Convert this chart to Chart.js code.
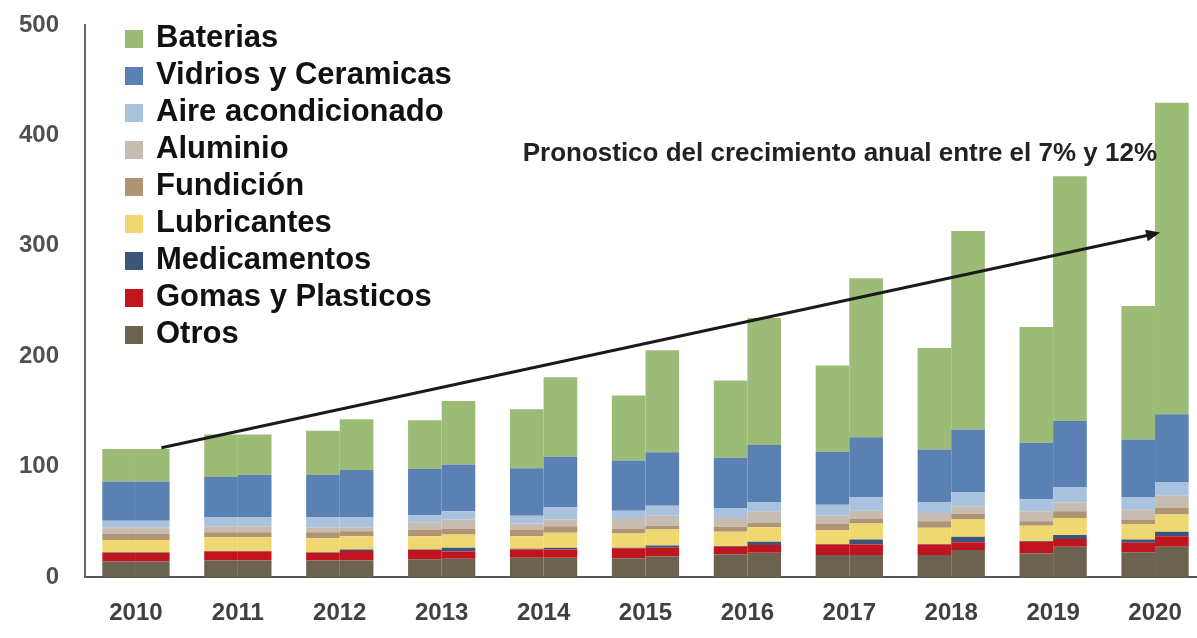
<!DOCTYPE html>
<html>
<head>
<meta charset="utf-8">
<script src="https://cdn.jsdelivr.net/npm/chart.js@4.4.1/dist/chart.umd.min.js"></script>
<style>
  html, body { margin: 0; padding: 0; background: #fff; overflow: hidden; }
  #wrap { width: 1197px; height: 638px; overflow: hidden; }
</style>
</head>
<body>
<div id="wrap"><canvas id="chart" width="1210" height="638"></canvas></div>
<script>
// categories
const years = ['2010', '2011', '2012', '2013', '2014', '2015', '2016', '2017', '2018', '2019', '2020'];

// stacked bottom -> top
const seriesNames = ['Otros', 'Gomas y Plasticos', 'Medicamentos', 'Lubricantes', 'Fundición',
  'Aluminio', 'Aire acondicionado', 'Vidrios y Ceramicas', 'Baterias'];
const seriesColors = ['#6b624f', '#c0141f', '#3d5578', '#efd872', '#b09575',
  '#c7bcb2', '#a9c2dd', '#5b80b4', '#9bbb76'];

// each year: [escenario bajo, escenario alto]
const otros = [[14, 14], [15, 15], [15, 15], [16, 16.5], [17.5, 17.5], [17, 18.5], [20.5, 22], [20, 20], [20, 24.5], [21.5, 27.5], [22.5, 27.5]];
const gomas = [[8, 8], [8, 8], [7, 8.5], [8.5, 6.5], [7.5, 7.5], [9, 8], [7, 7], [9.5, 9.5], [9.5, 7], [10.5, 7], [8.5, 9.5]];
const medicamentos = [[0.5, 0.5], [0.5, 0.5], [0.5, 1.5], [0.5, 3.5], [0.5, 1.5], [0.5, 2], [0.5, 3], [0.5, 4.5], [0.5, 5], [0.5, 3.5], [3, 4]];
const lubricantes = [[11, 11], [12.5, 12.5], [12.5, 12], [12, 12], [11.5, 13.5], [13, 14.5], [13, 13], [12.5, 14.5], [14.5, 15.5], [14, 15.5], [13.5, 15.5]];
const fundicion = [[5.5, 5.5], [4.5, 4.5], [5.5, 4.5], [5.5, 5], [6, 6], [4.5, 3.5], [4.5, 4], [5.5, 4.5], [6, 5], [4, 6], [4.5, 6]];
const aluminio = [[6, 6], [5.5, 5.5], [4.5, 3.5], [7, 8.5], [5.5, 6], [8.5, 9], [8, 10], [7.5, 7], [7.5, 7], [9, 8], [9, 11]];
const aire = [[6, 6], [8, 8], [9, 9], [6.5, 7.5], [7, 11], [7.5, 9], [9, 9], [10, 12.5], [9.5, 13], [11, 13.5], [11, 12]];
const vidrios = [[35.5, 35.5], [36.5, 38.5], [38.5, 43], [42, 42.5], [43, 46], [45.5, 48.5], [45.5, 51.5], [48, 54], [48, 56.5], [51, 60.5], [52.5, 62]];
const baterias = [[29.5, 29.5], [38.5, 36.5], [40, 46], [44, 57.5], [53.5, 72], [59, 92.5], [70, 115], [78, 144], [92, 180], [105, 221.5], [121, 282]];

const seriesValues = [otros, gomas, medicamentos, lubricantes, fundicion, aluminio, aire, vidrios, baterias];

const forecastText = 'Pronostico del crecimiento anual entre el 7% y 12%';
// arrow ends in data units: [category index, value]
const arrowFrom = [0.25, 117];
const arrowTo = [10.05, 312];

const FONT = "'Liberation Sans', Arial, sans-serif";

const datasets = [];
seriesNames.forEach((name, i) => {
  ['bajo', 'alto'].forEach((stack, k) => {
    datasets.push({
      label: name,
      data: seriesValues[i].map(p => p[k]),
      stack: stack,
      backgroundColor: seriesColors[i],
      borderWidth: 0
    });
  });
});

const overlay = {
  id: 'overlay',
  afterDatasetsDraw(chart) {
    const ctx = chart.ctx;
    const x = chart.scales.x, y = chart.scales.y;
    ctx.save();

    // forecast arrow
    const x0 = x.getPixelForValue(arrowFrom[0]), y0 = y.getPixelForValue(arrowFrom[1]);
    const x1 = x.getPixelForValue(arrowTo[0]), y1 = y.getPixelForValue(arrowTo[1]);
    const ang = Math.atan2(y1 - y0, x1 - x0);
    const head = 14;
    ctx.strokeStyle = '#1a1a1a';
    ctx.fillStyle = '#1a1a1a';
    ctx.lineWidth = 3;
    ctx.beginPath();
    ctx.moveTo(x0, y0);
    ctx.lineTo(x1 - Math.cos(ang) * head * 0.8, y1 - Math.sin(ang) * head * 0.8);
    ctx.stroke();
    ctx.beginPath();
    ctx.moveTo(x1, y1);
    ctx.lineTo(x1 - head * Math.cos(ang) + 6 * Math.sin(ang), y1 - head * Math.sin(ang) - 6 * Math.cos(ang));
    ctx.lineTo(x1 - head * Math.cos(ang) - 6 * Math.sin(ang), y1 - head * Math.sin(ang) + 6 * Math.cos(ang));
    ctx.closePath();
    ctx.fill();

    // forecast text
    ctx.font = 'bold 26px ' + FONT;
    ctx.fillStyle = '#222';
    ctx.textAlign = 'right';
    ctx.textBaseline = 'alphabetic';
    ctx.fillText(forecastText, 1157, 161);

    // legend, top series first
    ctx.font = 'bold 31px ' + FONT;
    ctx.textAlign = 'left';
    for (let i = 0; i < seriesNames.length; i++) {
      const s = seriesNames.length - 1 - i;
      const base = 47 + i * 37;
      ctx.fillStyle = seriesColors[s];
      ctx.fillRect(125, base - 17, 18, 18);
      ctx.fillStyle = '#111';
      ctx.fillText(seriesNames[s], 156, base);
    }
    ctx.restore();
  }
};

new Chart(document.getElementById('chart'), {
  type: 'bar',
  data: { labels: years, datasets: datasets },
  options: {
    responsive: false,
    animation: false,
    layout: { padding: { top: 25, right: 4, left: 0, bottom: 0 } },
    plugins: { legend: { display: false }, tooltip: { enabled: false } },
    datasets: { bar: { categoryPercentage: 0.66, barPercentage: 1.0 } },
    scales: {
      x: {
        stacked: true,
        grid: { display: false, drawTicks: false },
        border: { display: true, color: '#555', width: 2 },
        ticks: { color: '#404040', padding: 22, font: { family: FONT, size: 24, weight: 'bold' } },
        afterFit(scale) { scale.height = 61; scale.paddingLeft = 0; scale.paddingRight = 0; }
      },
      y: {
        stacked: true,
        min: 0,
        max: 500,
        grid: { display: false, drawTicks: false },
        border: { display: true, color: '#666', width: 2 },
        ticks: { stepSize: 100, color: '#505050', padding: 26, font: { family: FONT, size: 24, weight: 'bold' } },
        afterFit(scale) { scale.width = 85; scale.paddingTop = 0; scale.paddingBottom = 0; }
      }
    }
  },
  plugins: [overlay]
});
</script>
</body>
</html>
